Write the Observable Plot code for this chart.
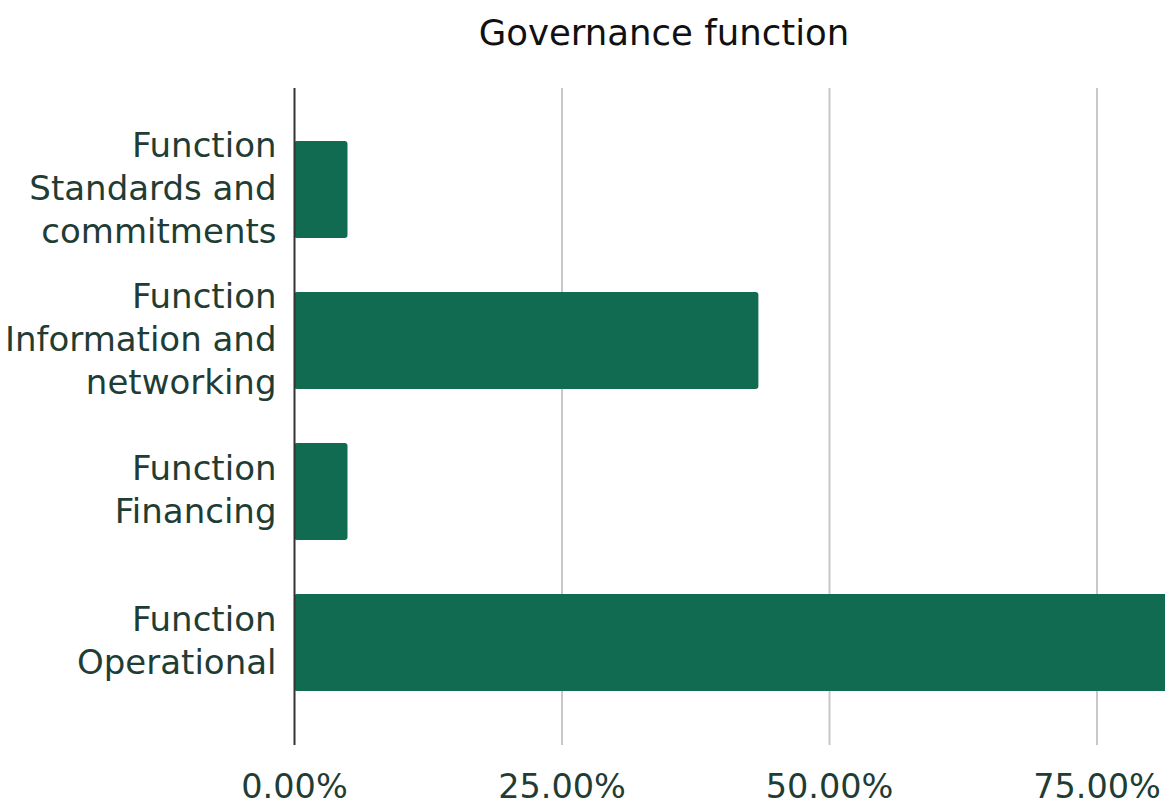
<!DOCTYPE html>
<html>
<head>
<meta charset="utf-8">
<script src="https://cdn.jsdelivr.net/npm/d3@7"></script>
<script src="https://cdn.jsdelivr.net/npm/@observablehq/plot@0.6"></script>
<style>
  html, body { margin: 0; padding: 0; background: #fff; overflow: hidden; }
  #title { width: 1165px; box-sizing: border-box; padding-left: 163px; text-align: center;
    font-family: "DejaVu Sans", sans-serif; font-size: 35.5px; color: #111; height: 70px; line-height: 66px; }
</style>
</head>
<body>
<div id="title">Governance function</div>
<div id="chart"></div>
<script>
const categories = [
  "Function\nStandards and\ncommitments",
  "Function\nInformation and\nnetworking",
  "Function\nFinancing",
  "Function\nOperational"
];
const values = [0.05, 0.434, 0.05, 0.87];
const xTicks = [0, 0.25, 0.5, 0.75];

const data = categories.map((c, i) => ({ category: c, value: values[i] }));
const textColor = "#1f3d35";

const chart = Plot.plot({
  width: 1165,
  height: 736,
  marginLeft: 294,
  marginRight: 0,
  marginTop: 18,
  marginBottom: 61,
  style: { fontFamily: "DejaVu Sans, sans-serif", fontSize: "34px", color: textColor, background: "#fff" },
  x: { domain: [0, 0.814], ticks: xTicks, tickFormat: d => (d * 100).toFixed(2) + "%" },
  y: { domain: categories, padding: 0.355, paddingOuter: 0.34, label: null },
  marks: [
    Plot.gridX(xTicks.slice(1), { stroke: "#c8c8c8", strokeOpacity: 1, strokeWidth: 2 }),
    Plot.barX(data, { x: "value", y: "category", fill: "#116b50", rx: 3, clip: true }),
    Plot.ruleX([0], { stroke: "#333", strokeWidth: 2 }),
    Plot.axisX({ ticks: xTicks, tickSize: 0, tickPadding: 29, tickFormat: d => (d * 100).toFixed(2) + "%", label: null, fontSize: 33.5, fill: textColor }),
    Plot.axisY({ tickSize: 0, tickPadding: 18, label: null, fontSize: 34, lineHeight: 1.265, dy: -4, fill: textColor })
  ]
});
document.getElementById("chart").appendChild(chart);
</script>
</body>
</html>
